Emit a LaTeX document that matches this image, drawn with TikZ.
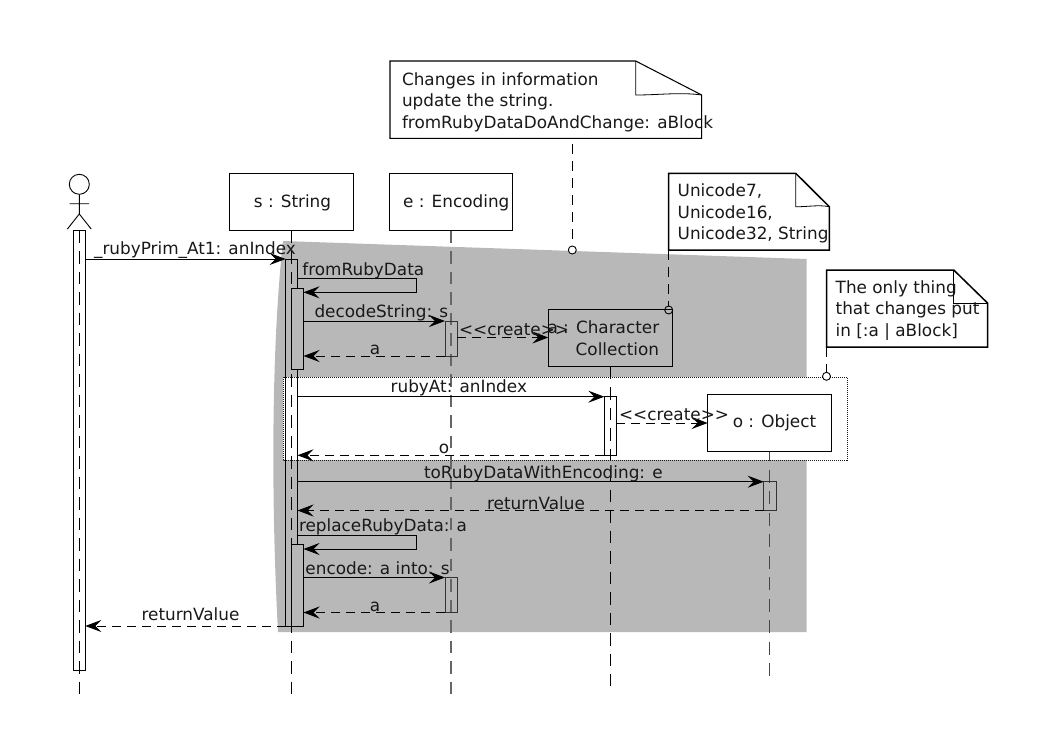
\documentclass[tikz,border=0pt]{standalone}
\usepackage{fontspec}
\setmainfont{DejaVu Sans}
\usetikzlibrary{arrows.meta,calc}
\definecolor{region}{HTML}{B8B8B8}
\definecolor{softline}{HTML}{666666}
\tikzset{
  base/.style={line width=0.9pt,line cap=butt},
  objbox/.style={base,draw=black,rectangle,inner sep=0pt,outer sep=0pt},
  softbox/.style={objbox,draw=softline!50!black},
  lifeline/.style={line width=0.9pt,dash pattern=on 12.5pt off 8pt},
  softlife/.style={lifeline,draw=softline,line width=1.6pt},
  msg/.style={line width=0.9pt,-{Stealth[length=16pt,width=12pt,inset=6pt]}},
  ret/.style={msg,dash pattern=on 9pt off 6pt},
  lbl/.style={inner sep=0pt,outer sep=0pt,font=\fontsize{16.85}{16.85}\selectfont,text=black!90,anchor=base},
  lblw/.style={lbl,anchor=base west},
  notebody/.style={fill=white,draw=black,line width=1.05pt,line join=miter},
  notethick/.style={notebody,line width=1.5pt},
  notelink/.style={line width=0.8pt,dash pattern=on 10pt off 7pt},
  pin/.style={circle,draw=black,line width=0.9pt,inner sep=0pt,outer sep=0pt,minimum size=8pt},
}
% name, x1, y1, x2, y2, extra style
\newcommand{\umlbox}[6]{\node[objbox,#6,minimum width={(#4-#2)*1pt},minimum height={(#5-#3)*1pt}] (#1) at ({(#2+#4)/2},{(#3+#5)/2}) {};}
\begin{document}
\begin{tikzpicture}[x=1pt,y=-1pt]
\useasboundingbox (0,0) rectangle (1052,744);
% grey region and white dotted region
\fill[region] (283,241) -- (806.5,259) -- (806.5,632) -- (278,632) .. controls (272,520) and (270,360) .. cycle;
\draw[fill=white,draw=black!90,line width=1pt,dash pattern=on 1pt off 1pt] (283,377) rectangle (847,460);

% head rows
\node[objbox,fill=white,minimum width=123.5pt,minimum height=57pt] (sbox) at (291.25,202) {};
\node[objbox,fill=white,minimum width=123.5pt,minimum height=57pt] (ebox) at (451,202) {};
\node[objbox,minimum width=124pt,minimum height=57pt] (cbox) at (610.3,338) {};
\node[objbox,fill=white,minimum width=124pt,minimum height=57pt] (obox) at (769.7,423) {};

% actor
\node[circle,draw=black,line width=0.9pt,inner sep=0pt,minimum size=20pt] (head) at (79.3,184.3) {};
\coordinate (hip) at (79.3,214);
\coordinate (armL) at (69.5,203.7);
\coordinate (armR) at (89,203.7);
\coordinate (legL) at (67.4,229);
\coordinate (legR) at (91.2,229);
\draw[base] (head.south) -- (hip) (armL) -- (armR) (legL) -- (hip) -- (legR);

% lifeline ends
\coordinate (atop) at (79.3,230.5);
\coordinate (aend) at (79.3,695);
\coordinate (send) at (291.5,695);
\coordinate (eend) at (451,695);
\coordinate (cend) at (610.3,686);
\coordinate (oend) at (769.7,676.5);
\draw[lifeline] (atop) -- (aend);
\draw[lifeline] (sbox.south) ++(0.25,0) -- (send);
\draw[softlife] (ebox.south) -- (eend);
\draw[lifeline] (cbox.south) -- (cend);
\draw[draw=softline!70!black,line width=1.2pt,dash pattern=on 13pt off 8.5pt,dash phase=3.5pt] (obox.south) -- (oend);

% activations
\umlbox{aA}{73.3}{230.5}{85.3}{670}{}
\umlbox{sA}{285.6}{259}{297.5}{626}{}
\umlbox{sB}{291.5}{288}{303.5}{369}{fill=region}
\umlbox{sC}{291.5}{544.5}{303.5}{626}{fill=region}
\umlbox{eA}{445}{321}{457.2}{356}{softbox}
\umlbox{eB}{445}{577.5}{457.2}{612.5}{softbox}
\umlbox{cA}{604.3}{396.7}{616.3}{455.3}{}
\umlbox{oA}{763.7}{481.7}{776}{510.5}{softbox}

% message rows
\coordinate (y1) at (0,259);
\coordinate (y2a) at (0,278.7);
\coordinate (y2b) at (0,292.3);
\coordinate (y3) at (0,321);
\coordinate (y4) at (0,356);
\coordinate (y5) at (0,337.5);
\coordinate (y6) at (0,396.7);
\coordinate (y7) at (0,455.3);
\coordinate (y8) at (0,423);
\coordinate (y9) at (0,481.7);
\coordinate (y10) at (0,510.5);
\coordinate (y11a) at (0,535.7);
\coordinate (y11b) at (0,549);
\coordinate (y12) at (0,577.5);
\coordinate (y13) at (0,612.5);
\coordinate (y14) at (0,626);
\coordinate (turn) at (416.7,0);

\draw[msg] (aA.east |- y1) -- (sA.west |- y1);
\draw[msg] (sA.east |- y2a) -- (turn |- y2a) -- (turn |- y2b) -- (sB.east |- y2b);
\draw[msg] (sB.east |- y3) -- (eA.west |- y3);
\draw[ret] (eA.west |- y4) -- (sB.east |- y4);
\draw[ret] (eA.east |- y5) -- (cbox.west |- y5);
\draw[msg] (sA.east |- y6) -- (cA.west |- y6);
\draw[ret] (cA.west |- y7) -- (sA.east |- y7);
\draw[ret] (cA.east |- y8) -- (obox.west |- y8);
\draw[msg] (sA.east |- y9) -- (oA.west |- y9);
\draw[ret] (oA.west |- y10) -- (sA.east |- y10);
\draw[msg] (sA.east |- y11a) -- (turn |- y11a) -- (turn |- y11b) -- (sC.east |- y11b);
\draw[msg] (sC.east |- y12) -- (eB.west |- y12);
\draw[ret] (eB.west |- y13) -- (sC.east |- y13);
\draw[ret] (sA.west |- y14) -- (aA.east |- y14);

% notes
\draw[notebody] (390,61) -- (635.7,61) -- (701.7,95) -- (701.7,138.3) -- (390,138.3) -- cycle;
\draw[line width=0.8pt] (635.7,61) -- (635.7,95) .. controls (660,95) and (680,92) .. (701.7,95);
\draw[notethick] (668.7,173.3) -- (795.7,173.3) -- (829.3,206.7) -- (829.3,250) -- (668.7,250) -- cycle;
\draw[line width=0.8pt] (795.7,173.3) -- (795.7,206.7) .. controls (807,207) and (818,204.5) .. (829.3,206.7);
\draw[notethick] (826.5,270) -- (953.7,270) -- (987.5,303) -- (987.5,347) -- (826.5,347) -- cycle;
\draw[line width=0.8pt] (953.7,270) -- (953.7,303) -- (987.5,303);

\coordinate (n1) at (572.3,144);
\coordinate (n2) at (668.7,250);
\coordinate (n3) at (826.5,347);
\node[pin,fill=white] (p1) at (572.3,250) {};
\node[pin] (p2) at (668.7,310) {};
\node[pin,fill=white] (p3) at (826.5,376.3) {};
\draw[notelink] (n1) -- (p1.north);
\draw[notelink] (n2) -- (p2.north);
\draw[notelink] (n3) -- (p3.north);

% labels
\node[lbl] (tS) at (292.5,207.3) {s : String};
\node[lbl] (tE) at (456.3,207) {e : Encoding};
\node[lblw] (tC1) at (547.5,333) {a : Character};
\node[lblw] (tC2) at (575.7,355) {Collection};
\node[lbl] (tO) at (774.5,427) {o : Object};
\node[lbl] (m1) at (195,254) {\_rubyPrim\_At1: anIndex};
\node[lbl] (m2) at (363.3,275) {fromRubyData};
\node[lbl] (m3) at (381.3,317.7) {decodeString: s};
\node[lbl] (m4) at (375,354) {a};
\node[lbl] (m5) at (514,335.3) {<{}<create>{}>};
\node[lbl] (m6) at (458.8,392.7) {rubyAt: anIndex};
\node[lbl] (m7) at (444,453) {o};
\node[lbl] (m8) at (674,420.7) {<{}<create>{}>};
\node[lbl] (m9) at (543.3,478) {toRubyDataWithEncoding: e};
\node[lbl] (m10) at (536,509) {returnValue};
\node[lbl] (m11) at (383,531.7) {replaceRubyData: a};
\node[lbl] (m12) at (377.5,574) {encode: a into: s};
\node[lbl] (m13) at (375,611) {a};
\node[lbl] (m14) at (190.5,620.7) {returnValue};
\node[lblw] (n1a) at (402,85) {Changes in information};
\node[lblw] (n1b) at (402,106.7) {update the string.};
\node[lblw] (n1c) at (402,128.3) {fromRubyDataDoAndChange: aBlock};
\node[lblw] (n2a) at (677.7,196.7) {Unicode7,};
\node[lblw] (n2b) at (677.7,218.3) {Unicode16,};
\node[lblw] (n2c) at (677.7,239.3) {Unicode32, String};
\node[lblw] (n3a) at (835.7,293.3) {The only thing};
\node[lblw] (n3b) at (835.7,314.3) {that changes put};
\node[lblw] (n3c) at (835.7,336) {in [:a | aBlock]};
\end{tikzpicture}
\end{document}
